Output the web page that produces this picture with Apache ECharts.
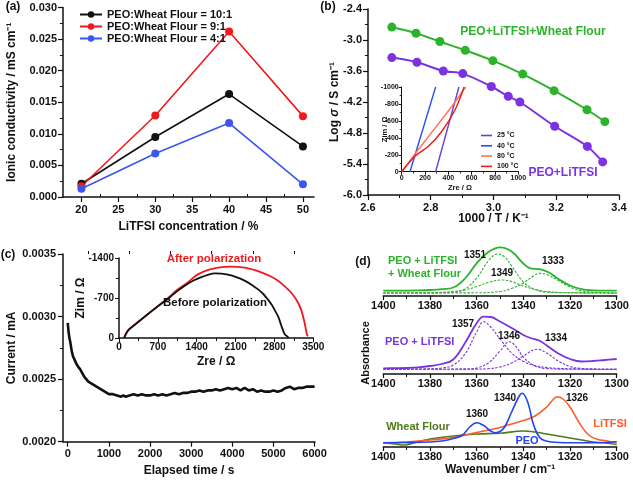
<!DOCTYPE html>
<html><head><meta charset="utf-8">
<script src="https://cdn.jsdelivr.net/npm/echarts@6/dist/echarts.min.js"></script>
<style>html,body{margin:0;padding:0;background:#fff}#c{width:633px;height:480px}</style>
</head><body><div id="c"></div>
<script>
// ---------- (a) ----------
const aConc = [20, 30, 40, 50];
const aVal101 = [0.0021, 0.0095, 0.0163, 0.0080];
const aVal91 = [0.0017, 0.0129, 0.0262, 0.0128];
const aVal41 = [0.0013, 0.0069, 0.0117, 0.0020];
const aNames = ['PEO:Wheat Flour = 10:1', 'PEO:Wheat Flour = 9:1', 'PEO:Wheat Flour = 4:1'];
const aXTicks = [20, 25, 30, 35, 40, 45, 50];
const aXMinor = [22.5, 27.5, 32.5, 37.5, 42.5, 47.5];
// ---------- (b) ----------
const bGreenX = [2.676, 2.753, 2.829, 2.910, 2.998, 3.093, 3.193, 3.298, 3.355];
const bGreenY = [-2.75, -2.87, -3.03, -3.20, -3.40, -3.66, -3.98, -4.35, -4.58];
const bPurpleX = [2.676, 2.756, 2.840, 2.902, 2.993, 3.047, 3.084, 3.195, 3.299, 3.348];
const bPurpleY = [-3.34, -3.43, -3.60, -3.65, -3.90, -4.09, -4.20, -4.67, -5.06, -5.36];
const bInNames = ['25 °C', '40 °C', '80 °C', '100 °C'];
const bIn25 = [[291, 0], [491, -1000]];
const bIn40 = [[71, 0], [291, -1000]];
const bIn80 = [[0, 0], [143, -262], [286, -515], [429, -770], [549, -1000]];
const bIn100 = [[0, 0], [114, -183], [229, -300], [343, -475], [457, -728], [535, -1000]];
// ---------- (c) ----------
const cCurrent = [[0,0.00295],[20,0.00288],[40,0.00283],[60,0.00280],[80,0.00276],[100,0.00272],[130,0.00268],[160,0.00266],[200,0.00263],[250,0.00260],[300,0.00258],[350,0.00255],[400,0.00252],[450,0.00250],[500,0.00248],[550,0.00247],[600,0.00246],[700,0.00244],[800,0.00242],[900,0.00240],[1000,0.00238],[1100,0.00238],[1200,0.00237],[1300,0.00236],[1350,0.00237],[1400,0.00236],[1500,0.00237],[1600,0.00238],[1700,0.00237],[1800,0.00238],[1900,0.00237],[2000,0.00237],[2100,0.00238],[2200,0.00237],[2300,0.00238],[2400,0.00237],[2500,0.00238],[2600,0.00239],[2700,0.00238],[2800,0.00239],[2900,0.00239],[3000,0.00240],[3100,0.00240],[3200,0.00241],[3300,0.00240],[3400,0.00241],[3500,0.00241],[3600,0.00242],[3700,0.00241],[3800,0.00242],[3900,0.00243],[4000,0.00242],[4100,0.00243],[4200,0.00241],[4300,0.00243],[4400,0.00241],[4500,0.00242],[4600,0.00240],[4700,0.00241],[4800,0.00240],[4900,0.00240],[5000,0.00241],[5100,0.00240],[5200,0.00241],[5300,0.00243],[5400,0.00244],[5500,0.00242],[5600,0.00243],[5700,0.00243],[5800,0.00244],[5900,0.00244],[6000,0.00244]];
const cXTicks = [0, 1000, 2000, 3000, 4000, 5000, 6000];
const cXMinor = [500, 1500, 2500, 3500, 4500, 5500];
const cBefore = [[95,0],[108,-40],[168,-138],[300,-245],[467,-377],[700,-555],[885,-688],[1050,-820],[1185,-915],[1350,-1010],[1484,-1065],[1600,-1105],[1723,-1130],[1850,-1125],[1962,-1107],[2100,-1070],[2262,-1005],[2400,-925],[2500,-855],[2600,-770],[2680,-676],[2760,-570],[2800,-497],[2870,-370],[2920,-227],[2960,-120],[2990,-60],[3040,-20],[3050,0]];
const cAfter = [[95,0],[108,-40],[168,-138],[300,-245],[467,-377],[700,-555],[885,-700],[1050,-845],[1244,-975],[1370,-1080],[1484,-1143],[1640,-1200],[1782,-1233],[2022,-1250],[2262,-1233],[2420,-1195],[2560,-1150],[2720,-1085],[2860,-1005],[2990,-900],[3100,-796],[3200,-660],[3280,-497],[3340,-280],[3375,-110],[3390,-50],[3410,-35]];
// ---------- (d) ----------
const dGreenSum = [[1400,5.3],[1395,5.3],[1390,5.4],[1385,5.6],[1380,6.0],[1375,6.8],[1370,8.5],[1365,17.5],[1360,32.7],[1355,44],[1350,48.7],[1345,44.5],[1340,32.5],[1337,27.7],[1333,26.8],[1329,23.5],[1325,17],[1320,10.5],[1315,6.8],[1310,5.6],[1305,5.3],[1300,5.3]];
const dGreen1351 = [[1400,3],[1375,3.2],[1370,4],[1365,7],[1360,18],[1355,35],[1351,42],[1348,39],[1345,30],[1340,14],[1335,6.5],[1330,4],[1320,3.2],[1300,3]];
const dGreen1349 = [[1400,3],[1380,3.2],[1370,4.5],[1365,6],[1360,9.5],[1355,13.5],[1349,16],[1345,14.5],[1340,10],[1335,6.5],[1330,4.5],[1320,3.3],[1300,3]];
const dGreen1333 = [[1400,3],[1360,3.2],[1350,4.5],[1345,7.5],[1340,13],[1336,19.5],[1333,22.7],[1330,21.5],[1325,15.5],[1320,9],[1315,5.2],[1310,3.8],[1300,3]];
const dPurpleSum = [[1400,5.7],[1395,5.8],[1390,6.0],[1385,6.6],[1380,8],[1375,10],[1370,14.5],[1365,31],[1360,50.7],[1357,57.3],[1354,57],[1350,52.5],[1345,46],[1340,39],[1337,36],[1333,33.3],[1330,28.5],[1325,20.5],[1320,15],[1315,12.5],[1310,13],[1305,14],[1300,15]];
const dPurple1357 = [[1400,4.7],[1380,5.2],[1375,6],[1370,9],[1365,20],[1360,42],[1357,52.3],[1354,47],[1350,35],[1345,21],[1340,12.5],[1335,8.5],[1330,6.5],[1320,5.2],[1300,4.7]];
const dPurple1346 = [[1400,4.7],[1365,4.9],[1360,6],[1355,11],[1350,23],[1346,32.3],[1343,27],[1340,17],[1335,8],[1330,5.5],[1320,4.8],[1300,4.7]];
const dPurple1334 = [[1400,4.7],[1360,4.9],[1355,5.3],[1350,7],[1345,11],[1340,18],[1334,24.7],[1330,21],[1325,13],[1320,7.5],[1315,5.5],[1310,4.9],[1300,4.7]];
const dPEO = [[1400,4.3],[1390,4.5],[1380,5],[1375,6],[1370,8.5],[1366,12],[1363,20],[1360,24.3],[1357,21.5],[1354,16],[1352,14.3],[1350,15.5],[1348,20],[1345,35],[1342,50],[1340.5,53.7],[1338,44],[1336,25],[1334,13],[1332,7.5],[1328,5],[1320,4.2],[1310,4.3],[1300,5.3]];
const dLiTFSI = [[1400,3.5],[1390,5],[1380,7],[1370,9.5],[1360,14.5],[1350,19.5],[1345,23],[1340,26.5],[1335,31],[1330,40],[1327,48],[1325.5,50.3],[1323,48],[1320,40],[1316,24],[1312,12],[1308,7.5],[1305,6.5],[1302,5],[1300,4.5]];
const dWheat = [[1400,4],[1395,3],[1391,2],[1387,4],[1380,8],[1370,11],[1360,13],[1350,13.8],[1340,16],[1335,15],[1330,13],[1320,9],[1315,7],[1310,5],[1305,4],[1300,2.5]];

const F = '"Liberation Sans", Arial, sans-serif';
const BLK = '#111';
const C = {red:'#f2191c', blue:'#3b55ee', green:'#2bb32b', purple:'#7b33e2', peo:'#2344ee', litfsi:'#ff5c2c', olive:'#4f7a18',
  in25:'#6a3fd8', in40:'#2b4fe8', in80:'#ff6f50', in100:'#ee1a1a'};
const zip = (xs, ys) => xs.map((x, i) => [x, ys[i]]);
const plain = v => String(v);

function lab(size, extra) { return Object.assign({fontFamily: F, fontWeight: 'bold', fontSize: size, color: BLK}, extra || {}); }
function vAxis(o) {
  return Object.assign({
    type: 'value', splitLine: {show: false}, nameMoveOverlap: false,
    axisLine: {show: true, onZero: false, lineStyle: {color: BLK, width: 1.5}},
    axisTick: {show: true, length: 5, lineStyle: {color: BLK, width: 1.2}},
    minorTick: {show: true, splitNumber: 2, length: 3, lineStyle: {color: BLK, width: 1}},
    axisLabel: lab(11, {margin: 6, formatter: plain}),
    nameTextStyle: lab(12), nameLocation: 'middle'
  }, o);
}

const grids = [
  {left: 63, top: 7.5, width: 251, height: 189.5},      // 0 a
  {left: 368, top: 9, width: 251, height: 186},          // 1 b
  {left: 401.7, top: 87, width: 116.6, height: 84.7},    // 2 b inset
  {left: 63, top: 254, width: 252, height: 187.7},       // 3 c
  {left: 119, top: 258, width: 194.3, height: 80},       // 4 c inset
  {left: 383.3, top: 238, width: 233.4, height: 58},     // 5 d1
  {left: 383.3, top: 310, width: 233.4, height: 64},     // 6 d2
  {left: 383.3, top: 386, width: 233.4, height: 61}      // 7 d3
];
grids.forEach(g => g.containLabel = false);

const dLab = lab(11, {margin: 4, formatter: plain});
const dTick = {show: true, length: 4, lineStyle: {color: BLK, width: 1.2}};
const xAxis = [
  vAxis({gridIndex: 0, min: 17.5, max: 51.5, minorTick: {show: false},
    axisTick: {show: true, length: 5, customValues: aXTicks, lineStyle: {color: BLK, width: 1.2}},
    axisLabel: lab(11, {margin: 7, customValues: aXTicks, formatter: plain}),
    name: 'LiTFSI concentration / %', nameGap: 24}),
  vAxis({gridIndex: 0, min: 17.5, max: 51.5, minorTick: {show: false}, axisLine: {show: false},
    axisTick: {show: true, length: 3, customValues: aXMinor, lineStyle: {color: BLK, width: 1}}, axisLabel: {show: false}}),
  vAxis({gridIndex: 1, min: 2.6, max: 3.4, interval: 0.2,
    axisLabel: lab(11, {margin: 7, formatter: v => v.toFixed(1)}),
    name: '1000 / T / K⁻¹', nameGap: 18}),
  vAxis({gridIndex: 2, min: 0, max: 1000, interval: 200,
    axisTick: {show: true, length: 3, lineStyle: {color: BLK, width: 1}},
    minorTick: {show: true, splitNumber: 2, length: 2, lineStyle: {color: BLK, width: 0.8}},
    axisLine: {show: true, onZero: false, lineStyle: {color: BLK, width: 1}},
    axisLabel: lab(7, {margin: 3, formatter: plain}), name: 'Zre / Ω', nameGap: 12, nameTextStyle: lab(7.5)}),
  vAxis({gridIndex: 3, min: -115, max: 6010, minorTick: {show: false},
    axisTick: {show: true, length: 5, customValues: cXTicks, lineStyle: {color: BLK, width: 1.2}},
    axisLabel: lab(11, {margin: 7, customValues: cXTicks, formatter: plain}),
    name: 'Elapsed time / s', nameGap: 23}),
  vAxis({gridIndex: 3, min: -115, max: 6010, minorTick: {show: false}, axisLine: {show: false},
    axisTick: {show: true, length: 3, customValues: cXMinor, lineStyle: {color: BLK, width: 1}}, axisLabel: {show: false}}),
  vAxis({gridIndex: 4, min: 0, max: 3500, interval: 700,
    axisTick: {show: true, length: 4, lineStyle: {color: BLK, width: 1}},
    axisLabel: lab(10, {margin: 4, formatter: plain}), name: 'Zre / Ω', nameGap: 18, nameTextStyle: lab(12)}),
  vAxis({gridIndex: 5, min: 1300, max: 1400, inverse: true, interval: 20, axisLabel: dLab, axisTick: dTick}),
  vAxis({gridIndex: 6, min: 1300, max: 1400, inverse: true, interval: 20, axisLabel: dLab, axisTick: dTick}),
  vAxis({gridIndex: 7, min: 1300, max: 1400, inverse: true, interval: 20, axisLabel: dLab, axisTick: dTick,
    name: 'Wavenumber / cm⁻¹', nameGap: 17})
];

const yAxis = [
  vAxis({gridIndex: 0, min: 0, max: 0.03, interval: 0.005, axisLabel: lab(11, {margin: 6, formatter: v => v.toFixed(3)}),
    name: 'Ionic conductivity / mS cm⁻¹', nameGap: 45}),
  vAxis({gridIndex: 1, min: -6, max: -2.4, interval: 0.6, axisLabel: lab(11, {margin: 6, formatter: v => v.toFixed(1)}),
    name: 'Log {i|σ} / S cm⁻¹', nameGap: 27,
    nameTextStyle: lab(12, {rich: {i: {fontFamily: F, fontWeight: 'bold', fontStyle: 'italic', fontSize: 12, color: BLK}}})}),
  vAxis({gridIndex: 2, min: -1000, max: 0, interval: 200, inverse: true,
    axisTick: {show: true, length: 3, lineStyle: {color: BLK, width: 1}},
    minorTick: {show: true, splitNumber: 2, length: 2, lineStyle: {color: BLK, width: 0.8}},
    axisLine: {show: true, onZero: false, lineStyle: {color: BLK, width: 1}},
    axisLabel: lab(7, {margin: 3, formatter: plain}), name: 'Zim / Ω', nameGap: 13, nameTextStyle: lab(7.5)}),
  vAxis({gridIndex: 3, min: 0.002, max: 0.0035, interval: 0.0005, axisLabel: lab(11, {margin: 7, formatter: v => v.toFixed(4)}),
    name: 'Current / mA', nameGap: 45}),
  vAxis({gridIndex: 4, min: -1400, max: 0, interval: 700, inverse: true,
    axisTick: {show: true, length: 4, lineStyle: {color: BLK, width: 1}},
    axisLabel: lab(10, {margin: 5, formatter: plain}), name: 'Zim / Ω', nameGap: 32, nameTextStyle: lab(12)}),
  {type: 'value', gridIndex: 5, min: 0, max: 58, show: false},
  {type: 'value', gridIndex: 6, min: 0, max: 64, show: false},
  {type: 'value', gridIndex: 7, min: 0, max: 61, show: false}
];

function line(name, data, xi, yi, color, o) {
  return Object.assign({type: 'line', name, data, xAxisIndex: xi, yAxisIndex: yi, symbol: 'none', showSymbol: false,
    lineStyle: {color, width: 1.6}, itemStyle: {color}, animation: false, silent: true, z: 3}, o || {});
}
function dash(data, xi, yi, color) {
  return line('', data, xi, yi, color, {smooth: 0.4, lineStyle: {color, width: 1.1, type: [2.5, 1.5]}});
}
const pt = (color, size) => ({symbol: 'circle', showSymbol: true, symbolSize: size, itemStyle: {color}});

const series = [
  line(aNames[0], zip(aConc, aVal101), 0, 0, BLK, pt(BLK, 8)),
  line(aNames[1], zip(aConc, aVal91), 0, 0, C.red, pt(C.red, 8)),
  line(aNames[2], zip(aConc, aVal41), 0, 0, C.blue, pt(C.blue, 8)),
  line('bg', zip(bGreenX, bGreenY), 2, 1, C.green, Object.assign(pt(C.green, 9), {smooth: 0.3, lineStyle: {color: C.green, width: 2}})),
  line('bp', zip(bPurpleX, bPurpleY), 2, 1, C.purple, Object.assign(pt(C.purple, 9), {smooth: 0.3, lineStyle: {color: C.purple, width: 2}})),
  line(bInNames[0], bIn25, 3, 2, C.in25, {lineStyle: {color: C.in25, width: 1.4}}),
  line(bInNames[1], bIn40, 3, 2, C.in40, {lineStyle: {color: C.in40, width: 1.4}}),
  line(bInNames[2], bIn80, 3, 2, C.in80, {lineStyle: {color: C.in80, width: 1.4}}),
  line(bInNames[3], bIn100, 3, 2, C.in100, {smooth: 0.3, lineStyle: {color: C.in100, width: 1.4}}),
  line('cur', cCurrent, 4, 3, BLK, {lineStyle: {color: BLK, width: 2.6}}),
  line('after', cAfter, 6, 4, C.red, {smooth: 0.3, lineStyle: {color: C.red, width: 1.8}}),
  line('before', cBefore, 6, 4, BLK, {smooth: 0.3, lineStyle: {color: BLK, width: 1.8}}),
  dash(dGreen1351, 7, 5, C.green), dash(dGreen1349, 7, 5, C.green), dash(dGreen1333, 7, 5, C.green),
  line('gs', dGreenSum, 7, 5, C.green, {smooth: 0.4, lineStyle: {color: C.green, width: 1.8}}),
  dash(dPurple1357, 8, 6, C.purple), dash(dPurple1346, 8, 6, C.purple), dash(dPurple1334, 8, 6, C.purple),
  line('ps', dPurpleSum, 8, 6, C.purple, {smooth: 0.4, lineStyle: {color: C.purple, width: 1.8}}),
  line('wf', dWheat, 9, 7, C.olive, {smooth: 0.4, lineStyle: {color: C.olive, width: 1.6}}),
  line('li', dLiTFSI, 9, 7, C.litfsi, {smooth: 0.4, lineStyle: {color: C.litfsi, width: 1.6}}),
  line('peo', dPEO, 9, 7, C.peo, {smooth: 0.4, lineStyle: {color: C.peo, width: 1.6}})
];

function txt(text, x, y, size, color, align) {
  return {type: 'text', x, y, silent: true, z: 10,
    style: {text, fill: color || BLK, font: 'bold ' + size + 'px ' + F, align: align || 'center', verticalAlign: 'middle'}};
}
const graphic = [
  txt('(a)', 13, 7, 12), txt('(b)', 328, 7, 12), txt('(c)', 8, 255, 12), txt('(d)', 363, 262, 12),
  txt('PEO+LiTFSI+Wheat Flour', 533, 32, 12, C.green),
  txt('PEO+LiTFSI', 563, 173, 12, C.purple),
  txt('After polarization', 214, 259, 11.5, C.red),
  txt('Before polarization', 215, 303, 11.5, BLK),
  txt('PEO + LiTFSI', 388, 261, 11, C.green, 'left'),
  txt('+ Wheat Flour', 388, 274, 11, C.green, 'left'),
  txt('1351', 475, 255, 10), txt('1349', 502, 273, 10), txt('1333', 553, 261, 10),
  txt('PEO + LiTFSI', 385, 342, 11, C.purple, 'left'),
  txt('1357', 463, 324, 10), txt('1346', 509, 336, 10), txt('1334', 556, 338, 10),
  txt('Wheat Flour', 418, 427, 11, C.olive),
  txt('1360', 477, 414, 10), txt('1340', 505, 398, 10), txt('1326', 577, 398, 10),
  txt('LiTFSI', 610, 424, 11, C.litfsi), txt('PEO', 527, 441, 11, C.peo),
  {type: 'text', x: 366, y: 353, rotation: Math.PI / 2, silent: true,
    style: {text: 'Absorbance', fill: BLK, font: 'bold 11px ' + F, align: 'center', verticalAlign: 'middle'}}
];

const legend = [
  {data: aNames, orient: 'vertical', left: 74, top: 4, itemWidth: 22, itemHeight: 8, itemGap: 1, selectedMode: false,
    textStyle: lab(11, {color: BLK})},
  {data: bInNames, orient: 'vertical', left: 476, top: 126, itemWidth: 11, itemHeight: 1.6, itemGap: 1.3, icon: 'rect',
    selectedMode: false, textStyle: lab(7, {color: BLK, lineHeight: 9})}
];

const chart = echarts.init(document.getElementById('c'), null, {renderer: 'canvas'});
chart.setOption({animation: false, backgroundColor: '#fff', grid: grids, xAxis, yAxis, series, legend, graphic});
</script></body></html>
